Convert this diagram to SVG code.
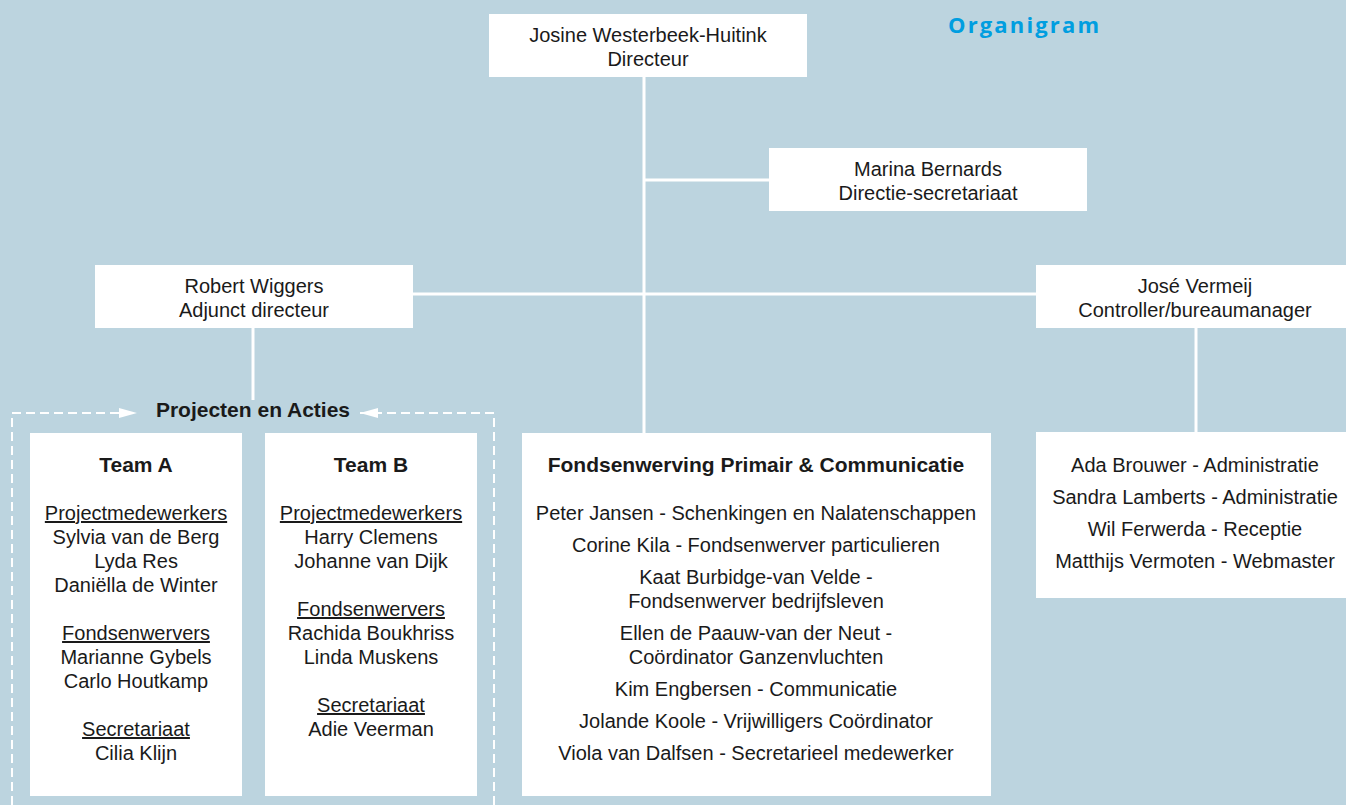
<svg xmlns="http://www.w3.org/2000/svg" width="1346" height="805" viewBox="0 0 1346 805">
<defs>
<style>
.bg{fill:#bcd4df}
.box{fill:#ffffff}
.t{font-family:"Liberation Sans","Open Sans",sans-serif;font-size:20px;fill:#1a1a1a;text-anchor:middle}
.b{font-weight:bold;font-size:21px}
.u{text-decoration:underline}
.ln{stroke:#ffffff;stroke-width:3;fill:none}
.dash{stroke:#ffffff;stroke-width:2;fill:none;stroke-dasharray:9 5}
.title{font-family:"Open Sans","Liberation Sans",sans-serif;font-size:22px;font-weight:bold;fill:#009ee0}
</style>
<marker id="arr" viewBox="0 0 18 10" refX="18" refY="5" markerWidth="18" markerHeight="10" markerUnits="userSpaceOnUse" orient="auto">
<path d="M0,0 L18,5 L0,10 Z" fill="#ffffff"/>
</marker>
</defs>
<rect class="bg" x="0" y="0" width="1346" height="805"/>
<text class="title" x="948" y="33" textLength="151" lengthAdjust="spacing">Organigram</text>

<g id="connectors">
<line class="ln" x1="644" y1="77" x2="644" y2="433"/>
<line class="ln" x1="644" y1="180" x2="769" y2="180"/>
<line class="ln" x1="413" y1="294" x2="1036" y2="294"/>
<line class="ln" x1="253" y1="328" x2="253" y2="400"/>
<line class="ln" x1="1196" y1="328" x2="1196" y2="432"/>
<path class="dash" d="M12,805 L12,413 L137,413" marker-end="url(#arr)"/>
<path class="dash" d="M494,805 L494,413 L360,413" marker-end="url(#arr)"/>
</g>

<g id="directeur">
<rect class="box" x="489" y="14" width="318" height="63"/>
<text class="t" x="648" y="42">Josine Westerbeek-Huitink</text>
<text class="t" x="648" y="66">Directeur</text>
</g>

<g id="secretariaat">
<rect class="box" x="769" y="148" width="318" height="63"/>
<text class="t" x="928" y="176">Marina Bernards</text>
<text class="t" x="928" y="200">Directie-secretariaat</text>
</g>

<g id="adjunct">
<rect class="box" x="95" y="265" width="318" height="63"/>
<text class="t" x="254" y="293">Robert Wiggers</text>
<text class="t" x="254" y="317">Adjunct directeur</text>
</g>

<g id="controller">
<rect class="box" x="1036" y="265" width="310" height="63"/>
<text class="t" x="1195" y="293">José Vermeij</text>
<text class="t" x="1195" y="317">Controller/bureaumanager</text>
</g>

<g id="projecten">
<text class="t b" x="253" y="417">Projecten en Acties</text>
</g>

<g id="teamA">
<rect class="box" x="30" y="433" width="212" height="363"/>
<text class="t b" x="136" y="472">Team A</text>
<text class="t u" x="136" y="520">Projectmedewerkers</text>
<text class="t" x="136" y="544">Sylvia van de Berg</text>
<text class="t" x="136" y="568">Lyda Res</text>
<text class="t" x="136" y="592">Daniëlla de Winter</text>
<text class="t u" x="136" y="640">Fondsenwervers</text>
<text class="t" x="136" y="664">Marianne Gybels</text>
<text class="t" x="136" y="688">Carlo Houtkamp</text>
<text class="t u" x="136" y="736">Secretariaat</text>
<text class="t" x="136" y="760">Cilia Klijn</text>
</g>

<g id="teamB">
<rect class="box" x="265" y="433" width="212" height="363"/>
<text class="t b" x="371" y="472">Team B</text>
<text class="t u" x="371" y="520">Projectmedewerkers</text>
<text class="t" x="371" y="544">Harry Clemens</text>
<text class="t" x="371" y="568">Johanne van Dijk</text>
<text class="t u" x="371" y="616">Fondsenwervers</text>
<text class="t" x="371" y="640">Rachida Boukhriss</text>
<text class="t" x="371" y="664">Linda Muskens</text>
<text class="t u" x="371" y="712">Secretariaat</text>
<text class="t" x="371" y="736">Adie Veerman</text>
</g>

<g id="fondsenwerving">
<rect class="box" x="522" y="433" width="469" height="363"/>
<text class="t b" x="756" y="472">Fondsenwerving Primair &amp; Communicatie</text>
<text class="t" x="756" y="520">Peter Jansen - Schenkingen en Nalatenschappen</text>
<text class="t" x="756" y="552">Corine Kila - Fondsenwerver particulieren</text>
<text class="t" x="756" y="584">Kaat Burbidge-van Velde -</text>
<text class="t" x="756" y="608">Fondsenwerver bedrijfsleven</text>
<text class="t" x="756" y="640">Ellen de Paauw-van der Neut -</text>
<text class="t" x="756" y="664">Coördinator Ganzenvluchten</text>
<text class="t" x="756" y="696">Kim Engbersen - Communicatie</text>
<text class="t" x="756" y="728">Jolande Koole - Vrijwilligers Coördinator</text>
<text class="t" x="756" y="760">Viola van Dalfsen - Secretarieel medewerker</text>
</g>

<g id="bureau">
<rect class="box" x="1036" y="432" width="310" height="166"/>
<text class="t" x="1195" y="472">Ada Brouwer - Administratie</text>
<text class="t" x="1195" y="504">Sandra Lamberts - Administratie</text>
<text class="t" x="1195" y="536">Wil Ferwerda - Receptie</text>
<text class="t" x="1195" y="568">Matthijs Vermoten - Webmaster</text>
</g>
</svg>
